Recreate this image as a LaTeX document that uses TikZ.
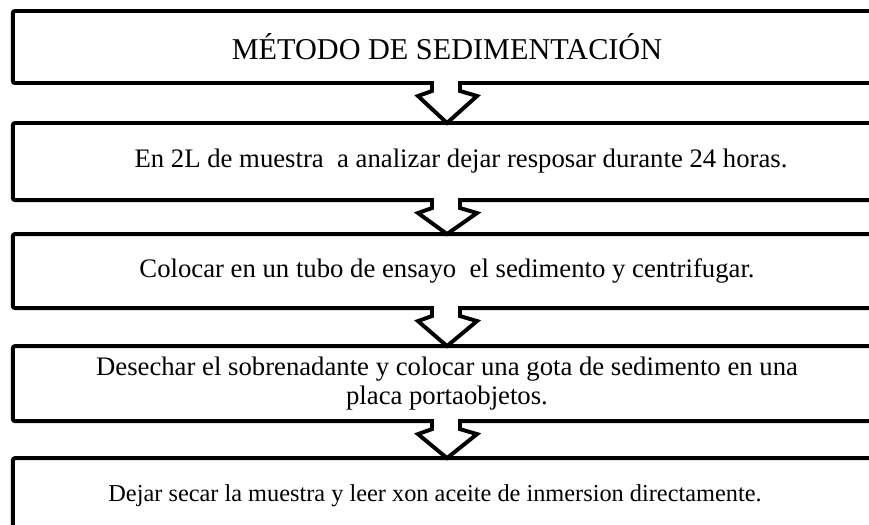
\documentclass[tikz,border=0pt]{standalone}
\usepackage{fontspec}
\setmainfont{Liberation Serif}
\usetikzlibrary{positioning,calc}

\begin{document}
\begin{tikzpicture}[x=0.025cm, y=-0.025cm, node distance=1cm,
	paso/.style = {draw, line width=2.8pt, rounded corners=1.5pt, minimum width=21.7cm, outer sep=0pt, align=center, font=\fontsize{19}{21.5}\selectfont}]
	\tikzset{flecha/.style = {line width=2.8pt, line join=miter, line cap=rect}}
	\useasboundingbox (0,0) rectangle (869,525);
	\clip (0,0) rectangle (869,525);
	
		\node[paso, minimum height=1.8cm, font=\fontsize{21.5}{24}\selectfont] (s1) at (447,47) {MÉTODO DE SEDIMENTACIÓN};
		\node[paso, minimum height=1.925cm] (s2) [below=1cm of s1] {\hspace*{0.7cm}En 2L de muestra~ a analizar dejar resposar durante 24 horas.};
		\node[paso, minimum height=1.85cm] (s3) [below=0.85cm of s2] {Colocar en un tubo de ensayo~ el sedimento y centrifugar.};
		\node[paso, minimum height=1.875cm] (s4) [below=0.95cm of s3] {Desechar el sobrenadante y colocar una gota de sedimento en una\\[-1.5pt] placa portaobjetos.};
		\node[paso, minimum height=1.9cm, font=\fontsize{17.3}{20}\selectfont] (s5) [below=0.925cm of s4] {Dejar secar la muestra y leer xon aceite de inmersion directamente.\hspace*{0.6cm}};
		
		\foreach \a/\b in {s1/s2, s2/s3, s3/s4, s4/s5} {
			\fill[white] ($(\a.south)+(-13,-3)$) rectangle ($(\a.south)+(11,3)$);
			\draw[flecha] ($(\a.south)+(-15,0)$) -- ++(0,8) -- ++(-14,5) -- (\b.north)
				-- ($(\a.south)+(30,13)$) -- ++(-17,-5) -- ++(0,-8);
		}
	\end{tikzpicture}
\end{document}
